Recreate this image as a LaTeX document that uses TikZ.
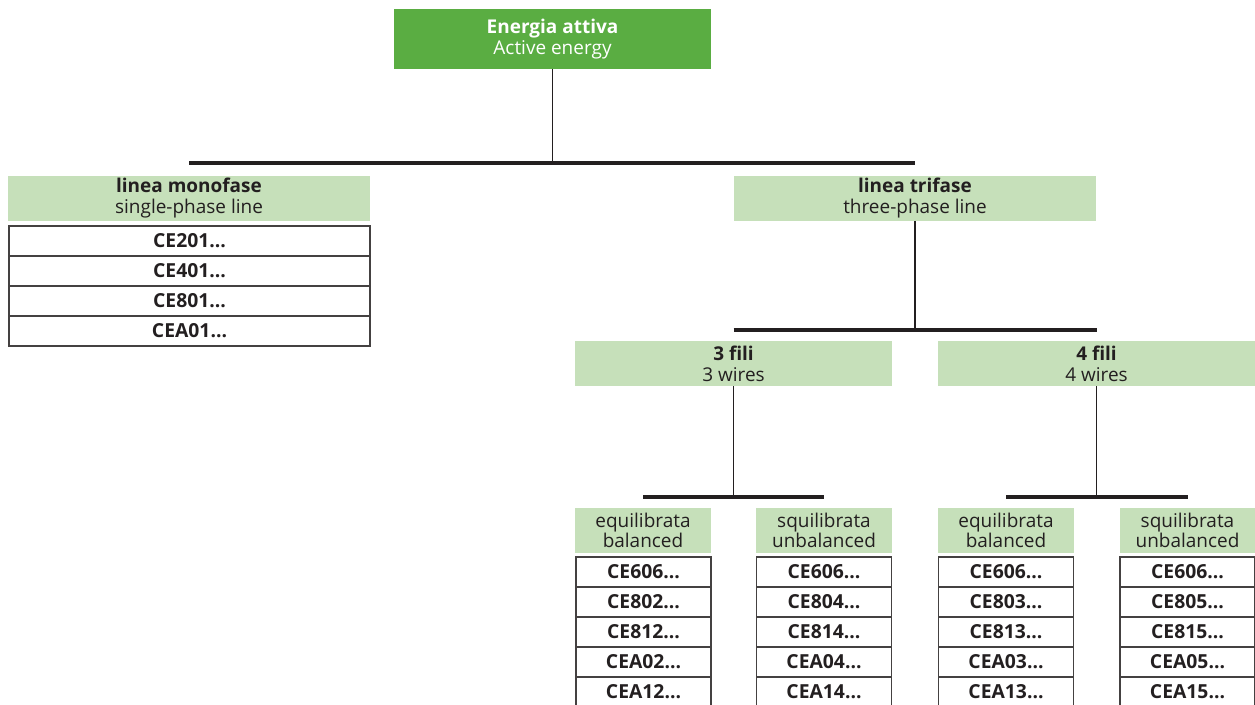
\documentclass[tikz,border=0pt]{standalone}
\usepackage{fontspec}
\setmainfont{Open Sans}
\definecolor{darkgreen}{HTML}{5AAD42}
\definecolor{lightgreen}{HTML}{C6E0BA}
\definecolor{ink}{HTML}{231F20}
\tikzset{
  box/.style={inner sep=0pt,align=center,text=ink},
  act/.style={box,fill=darkgreen,text=white,minimum width=6.34cm,minimum height=1.2cm},
  head/.style={box,fill=lightgreen,minimum height=.9cm},
  cell/.style={box,draw=ink!85,line width=.7pt,minimum height=.6cm,font=\fontsize{11}{12}\selectfont\bfseries},
  link/.style={draw=ink,line width=.8pt},
  bar/.style={draw=ink,line width=2.4pt}
}
\begin{document}
\begin{tikzpicture}[x=.02cm,y=-.02cm,font=\fontsize{10.8}{11.8}\selectfont]
  \useasboundingbox (0,0) rectangle (1255,704);
  \node[act] (act) at (552.5,39) {\textbf{Energia attiva}\\Active energy};
  \node[head,minimum width=7.24cm] (mono) at (189,198) {\textbf{linea monofase}\\single-phase line};
  \node[head,minimum width=7.24cm] (tri) at (915,198) {\textbf{linea trifase}\\three-phase line};
  \node[head,minimum width=6.34cm] (f3) at (733.5,363.5) {\textbf{3 fili}\\3 wires};
  \node[head,minimum width=6.34cm] (f4) at (1096.5,363.5) {\textbf{4 fili}\\4 wires};
  \node[head,minimum width=2.72cm] (e3) at (643,530.5) {equilibrata\\balanced};
  \node[head,minimum width=2.72cm] (s3) at (824,530.5) {squilibrata\\unbalanced};
  \node[head,minimum width=2.72cm] (e4) at (1006,530.5) {equilibrata\\balanced};
  \node[head,minimum width=2.72cm] (s4) at (1187.5,530.5) {squilibrata\\unbalanced};
  \coordinate (j0) at (552.5,163);
  \coordinate (j1) at (915,330);
  \coordinate (j2) at (733.5,497);
  \coordinate (j3) at (1096.5,497);
  \draw[link] (act.south) -- (j0);
  \draw[bar] (mono.north |- j0) -- (tri.north |- j0);
  \draw[link] (tri.south) -- (j1);
  \draw[bar] (f3.north |- j1) -- (f4.north |- j1);
  \draw[link] (f3.south) -- (j2);
  \draw[bar] (e3.north |- j2) -- (s3.north |- j2);
  \draw[link] (f4.south) -- (j3);
  \draw[bar] (e4.north |- j3) -- (s4.north |- j3);
  \foreach \t [count=\i] in {CE201,CE401,CE801,CEA01}
    \node[cell,minimum width=7.22cm] (m\i) at (189.5,211+30*\i) {\t\dots};
  \foreach \t [count=\i] in {CE606,CE802,CE812,CEA02,CEA12}
    \node[cell,minimum width=2.7cm] (a\i) at (643.5,542+30*\i) {\t\dots};
  \foreach \t [count=\i] in {CE606,CE804,CE814,CEA04,CEA14}
    \node[cell,minimum width=2.7cm] (b\i) at (824,542+30*\i) {\t\dots};
  \foreach \t [count=\i] in {CE606,CE803,CE813,CEA03,CEA13}
    \node[cell,minimum width=2.7cm] (c\i) at (1006,542+30*\i) {\t\dots};
  \foreach \t [count=\i] in {CE606,CE805,CE815,CEA05,CEA15}
    \node[cell,minimum width=2.7cm] (d\i) at (1187.5,542+30*\i) {\t\dots};
\end{tikzpicture}
\end{document}
